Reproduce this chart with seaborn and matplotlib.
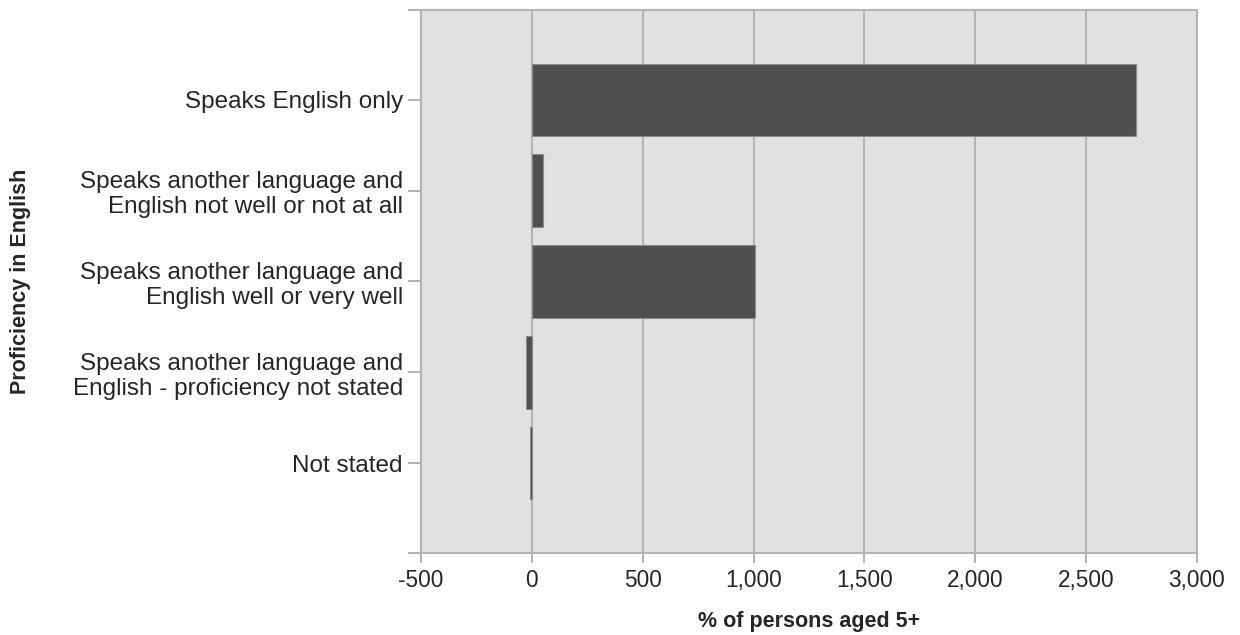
import matplotlib
matplotlib.use("Agg")
import matplotlib.pyplot as plt
import seaborn as sns
import pandas as pd
from matplotlib.ticker import FuncFormatter

categories = [
    "Speaks English only",
    "Speaks another language and\nEnglish not well or not at all",
    "Speaks another language and\nEnglish well or very well",
    "Speaks another language and\nEnglish - proficiency not stated",
    "Not stated",
]
values = [2725, 52, 1005, -25, -8]

df = pd.DataFrame({"category": categories, "value": values})

sns.set_style("white")
plt.rcParams["font.family"] = ["Liberation Sans", "DejaVu Sans"]

grid_col = "#b4b4b4"

fig = plt.figure(figsize=(12.4, 6.35), dpi=100)
ax = fig.add_axes([0.3395, 0.1291, 0.6258, 0.8552])
ax.set_facecolor("#e1e1e1")

sns.barplot(
    data=df,
    x="value",
    y="category",
    orient="h",
    color="#4f4f4f",
    saturation=1,
    width=0.8,
    edgecolor="#8a8a8a",
    linewidth=0.8,
    ax=ax,
    zorder=3,
)

ax.set_xlim(-500, 3000)
ax.set_xticks(range(-500, 3001, 500))
ax.xaxis.set_major_formatter(FuncFormatter(lambda v, p: f"{int(v):,}"))
ax.set_ylim(4.99, -0.99)
ax.set_yticks([-0.99, 4.99], minor=True)

ax.grid(axis="x", color=grid_col, linewidth=1.5, zorder=0)
ax.set_axisbelow(True)
for s in ax.spines.values():
    s.set_color(grid_col)
    s.set_linewidth(1.5)

ax.tick_params(axis="y", which="both", length=9.4, width=1.5, color=grid_col,
               labelsize=17.5, pad=3.6, left=True)
ax.tick_params(axis="x", length=7.2, width=1.5, color=grid_col, labelsize=16.3, pad=4,
               bottom=True)
for lbl in ax.get_yticklabels():
    lbl.set_horizontalalignment("right")
    lbl.set_multialignment("right")
    lbl.set_linespacing(1.18)

ax.set_xlabel("% of persons aged 5+", fontsize=15.5, fontweight="bold", labelpad=14)
ax.set_ylabel("Proficiency in English", fontsize=15.5, fontweight="bold")
ax.yaxis.set_label_coords(-0.503, 0.5)

fig.savefig("out.png", dpi=100)
